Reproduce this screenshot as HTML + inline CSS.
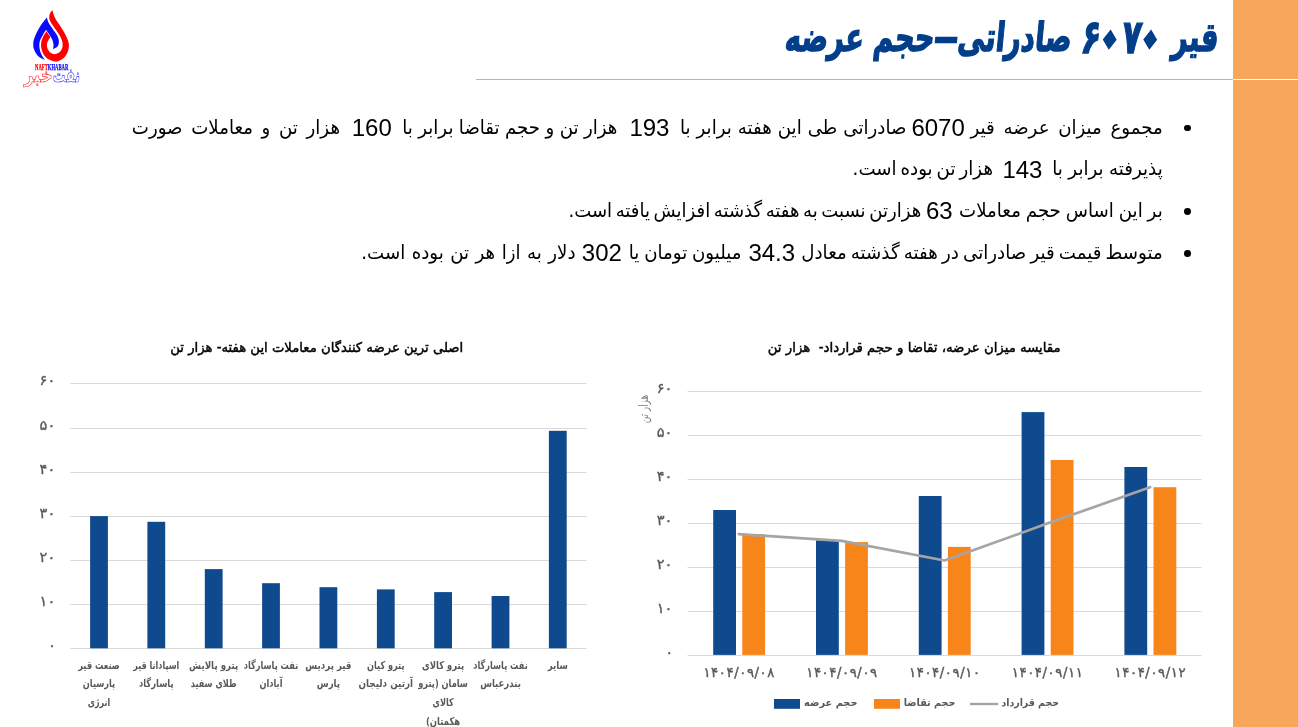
<!DOCTYPE html>
<html lang="fa">
<head>
<meta charset="utf-8">
<title>قیر ۶۰۷۰ صادراتی–حجم عرضه</title>
<style>
html,body{margin:0;padding:0;}
body{width:1298px;height:727px;overflow:hidden;background:#fff;position:relative;font-family:"Liberation Sans", "DejaVu Sans", sans-serif;}
.side{position:absolute;left:1233px;top:0;width:65px;height:727px;background:#F8A65C;}
.side i{position:absolute;left:0;top:79px;width:65px;height:1px;background:#fff;display:block;}
.rule{position:absolute;left:476px;top:79px;width:757px;height:1px;background:#F8A65C;}
h1{position:absolute;margin:0;right:82.5px;top:4px;height:66px;line-height:66px;font-size:40px;font-weight:bold;color:#023E8A;direction:rtl;white-space:nowrap;font-family:"DejaVu Sans",sans-serif;-webkit-text-stroke:1.4px #023E8A;transform:scaleX(.685) skewX(-8deg);transform-origin:right bottom;}
h1 .n{font-size:47px;line-height:1px;position:relative;top:1.5px;display:inline-block;direction:ltr;unicode-bidi:bidi-override;}
h1 .z{display:inline-block;font-size:1.6em;line-height:1px;position:relative;top:9.5px;margin:0 -7.6px;transform:rotate(45deg);}
h1 .d{display:inline-block;transform:scaleX(1.9);margin:0 7px;}
.ln{margin:0;}
.ar{position:absolute;direction:rtl;white-space:pre;font-size:18.2px;line-height:40px;height:40px;color:#000;font-family:"DejaVu Sans",sans-serif;transform-origin:100% 26.3px;}
.dg{position:absolute;font-size:24px;line-height:40px;height:40px;color:#000;text-align:center;font-family:"Liberation Sans",sans-serif;direction:ltr;}
.dot{position:absolute;left:1183.9px;width:6.8px;height:6.8px;border-radius:50%;background:#000;}
svg{position:absolute;left:0;top:0;}
svg text{font-family:"DejaVu Sans",sans-serif;}
</style>
</head>
<body>
<div class="side"><i></i></div>
<div class="rule"></div>
<h1>قیر <span class="n">۶<span class="z">۰</span>۷<span class="z">۰</span></span> صادراتی<span class="d">–</span>حجم عرضه</h1>

<p class="ln">
<span class="ar" style="top:107.6px;right:135.3px;word-spacing:2.85px;transform:scale(1.000,1.07)">مجموع میزان عرضه قیر</span>
<span class="dg" style="top:107.9px;left:903.0px;width:70.2px">6070</span>
<span class="ar" style="top:107.6px;right:391.6px;word-spacing:0.17px;transform:scale(1.000,1.07)">صادراتی طی این هفته برابر با</span>
<span class="dg" style="top:107.9px;left:623.0px;width:52.8px">193</span>
<span class="ar" style="top:107.6px;right:680.6px;word-spacing:-0.40px;transform:scale(1.000,1.07)">هزار تن و حجم تقاضا برابر با</span>
<span class="dg" style="top:107.9px;left:345.2px;width:53.2px">160</span>
<span class="ar" style="top:107.6px;right:958.0px;word-spacing:2.85px;transform:scale(1.000,1.07)">هزار تن و معاملات صورت</span>
</p>
<span class="dot" style="top:124.7px"></span>
<p class="ln">
<span class="ar" style="top:149.3px;right:135.3px;word-spacing:-0.33px;transform:scale(1.000,1.07)">پذیرفته برابر با</span>
<span class="dg" style="top:149.6px;left:995.8px;width:53.3px">143</span>
<span class="ar" style="top:149.3px;right:305.0px;word-spacing:-1.78px;transform:scale(1.000,1.07)">هزار تن بوده است.</span>
</p>
<p class="ln">
<span class="ar" style="top:191.1px;right:135.3px;word-spacing:-0.87px;transform:scale(1.000,1.07)">بر این اساس حجم معاملات</span>
<span class="dg" style="top:191.4px;left:918.2px;width:42.2px">63</span>
<span class="ar" style="top:191.1px;right:376.6px;word-spacing:-2.20px;transform:scale(0.993,1.07)">هزارتن نسبت به هفته گذشته افزایش یافته است.</span>
</p>
<span class="dot" style="top:208.2px"></span>
<p class="ln">
<span class="ar" style="top:232.8px;right:135.3px;word-spacing:-1.58px;transform:scale(1.000,1.07)">متوسط قیمت قیر صادراتی در هفته گذشته معادل</span>
<span class="dg" style="top:233.1px;left:740.2px;width:63.1px">34.3</span>
<span class="ar" style="top:232.8px;right:556.5px;word-spacing:-1.03px;transform:scale(1.000,1.07)">میلیون تومان یا</span>
<span class="dg" style="top:233.1px;left:572.9px;width:57.9px">302</span>
<span class="ar" style="top:232.8px;right:722.5px;word-spacing:0.67px;transform:scale(1.000,1.07)">دلار به ازا هر تن بوده است.</span>
</p>
<span class="dot" style="top:249.9px"></span>
<svg width="1298" height="727" viewBox="0 0 1298 727" direction="rtl">
<line x1="70.3" y1="648.5" x2="586.5" y2="648.5" stroke="#D9D9D9" stroke-width="1"/>
<text x="52.0" y="649.9" font-size="14" font-weight="normal" fill="#595959" text-anchor="middle" direction="ltr" stroke="#595959" stroke-width="0.35">۰</text>
<line x1="70.3" y1="604.5" x2="586.5" y2="604.5" stroke="#D9D9D9" stroke-width="1"/>
<text x="47.4" y="605.9" font-size="14" font-weight="normal" fill="#595959" text-anchor="middle" textLength="15.6" lengthAdjust="spacingAndGlyphs" direction="ltr" stroke="#595959" stroke-width="0.35">۱۰</text>
<line x1="70.3" y1="560.5" x2="586.5" y2="560.5" stroke="#D9D9D9" stroke-width="1"/>
<text x="47.4" y="561.9" font-size="14" font-weight="normal" fill="#595959" text-anchor="middle" textLength="15.6" lengthAdjust="spacingAndGlyphs" direction="ltr" stroke="#595959" stroke-width="0.35">۲۰</text>
<line x1="70.3" y1="516.5" x2="586.5" y2="516.5" stroke="#D9D9D9" stroke-width="1"/>
<text x="47.4" y="517.9" font-size="14" font-weight="normal" fill="#595959" text-anchor="middle" textLength="15.6" lengthAdjust="spacingAndGlyphs" direction="ltr" stroke="#595959" stroke-width="0.35">۳۰</text>
<line x1="70.3" y1="472.5" x2="586.5" y2="472.5" stroke="#D9D9D9" stroke-width="1"/>
<text x="47.4" y="473.9" font-size="14" font-weight="normal" fill="#595959" text-anchor="middle" textLength="15.6" lengthAdjust="spacingAndGlyphs" direction="ltr" stroke="#595959" stroke-width="0.35">۴۰</text>
<line x1="70.3" y1="428.5" x2="586.5" y2="428.5" stroke="#D9D9D9" stroke-width="1"/>
<text x="47.4" y="429.9" font-size="14" font-weight="normal" fill="#595959" text-anchor="middle" textLength="15.6" lengthAdjust="spacingAndGlyphs" direction="ltr" stroke="#595959" stroke-width="0.35">۵۰</text>
<line x1="70.3" y1="383.5" x2="586.5" y2="383.5" stroke="#D9D9D9" stroke-width="1"/>
<text x="47.4" y="384.9" font-size="14" font-weight="normal" fill="#595959" text-anchor="middle" textLength="15.6" lengthAdjust="spacingAndGlyphs" direction="ltr" stroke="#595959" stroke-width="0.35">۶۰</text>
<rect x="90.1" y="516.1" width="17.8" height="132.2" fill="#104A8E"/>
<text x="99.0" y="668.5" font-size="11" font-weight="bold" fill="#595959" text-anchor="middle" textLength="41.6" lengthAdjust="spacingAndGlyphs">صنعت قیر</text>
<text x="99.0" y="687.2" font-size="11" font-weight="bold" fill="#595959" text-anchor="middle" textLength="32.4" lengthAdjust="spacingAndGlyphs">پارسیان</text>
<text x="99.0" y="705.9" font-size="11" font-weight="bold" fill="#595959" text-anchor="middle" textLength="22.6" lengthAdjust="spacingAndGlyphs">انرژی</text>
<rect x="147.4" y="521.8" width="17.8" height="126.5" fill="#104A8E"/>
<text x="156.3" y="668.5" font-size="11" font-weight="bold" fill="#595959" text-anchor="middle" textLength="46.0" lengthAdjust="spacingAndGlyphs">اسپادانا قیر</text>
<text x="156.3" y="687.2" font-size="11" font-weight="bold" fill="#595959" text-anchor="middle" textLength="34.7" lengthAdjust="spacingAndGlyphs">پاسارگاد</text>
<rect x="204.8" y="569.1" width="17.8" height="79.2" fill="#104A8E"/>
<text x="213.7" y="668.5" font-size="11" font-weight="bold" fill="#595959" text-anchor="middle" textLength="49.2" lengthAdjust="spacingAndGlyphs">پترو پالایش</text>
<text x="213.7" y="687.2" font-size="11" font-weight="bold" fill="#595959" text-anchor="middle" textLength="45.8" lengthAdjust="spacingAndGlyphs">طلای سفید</text>
<rect x="262.1" y="583.2" width="17.8" height="65.1" fill="#104A8E"/>
<text x="271.0" y="668.5" font-size="11" font-weight="bold" fill="#595959" text-anchor="middle" textLength="54.5" lengthAdjust="spacingAndGlyphs">نفت پاسارگاد</text>
<text x="271.0" y="687.2" font-size="11" font-weight="bold" fill="#595959" text-anchor="middle" textLength="23.1" lengthAdjust="spacingAndGlyphs">آبادان</text>
<rect x="319.5" y="587.2" width="17.8" height="61.1" fill="#104A8E"/>
<text x="328.4" y="668.5" font-size="11" font-weight="bold" fill="#595959" text-anchor="middle" textLength="46.2" lengthAdjust="spacingAndGlyphs">قیر پردیس</text>
<text x="328.4" y="687.2" font-size="11" font-weight="bold" fill="#595959" text-anchor="middle" textLength="23.3" lengthAdjust="spacingAndGlyphs">پارس</text>
<rect x="376.9" y="589.4" width="17.8" height="58.9" fill="#104A8E"/>
<text x="385.8" y="668.5" font-size="11" font-weight="bold" fill="#595959" text-anchor="middle" textLength="37.4" lengthAdjust="spacingAndGlyphs">پترو کیان</text>
<text x="385.8" y="687.2" font-size="11" font-weight="bold" fill="#595959" text-anchor="middle" textLength="54.5" lengthAdjust="spacingAndGlyphs">آرتین دلیجان</text>
<rect x="434.2" y="592.1" width="17.8" height="56.2" fill="#104A8E"/>
<text x="443.1" y="668.5" font-size="11" font-weight="bold" fill="#595959" text-anchor="middle" textLength="42.0" lengthAdjust="spacingAndGlyphs">پترو کالای</text>
<text x="443.1" y="687.2" font-size="11" font-weight="bold" fill="#595959" text-anchor="middle" textLength="49.7" lengthAdjust="spacingAndGlyphs">سامان (پترو</text>
<text x="443.1" y="705.9" font-size="11" font-weight="bold" fill="#595959" text-anchor="middle" textLength="21.3" lengthAdjust="spacingAndGlyphs">کالای</text>
<text x="443.1" y="724.6" font-size="11" font-weight="bold" fill="#595959" text-anchor="middle" textLength="34.2" lengthAdjust="spacingAndGlyphs">هکمتان)</text>
<rect x="491.6" y="596.0" width="17.8" height="52.3" fill="#104A8E"/>
<text x="500.5" y="668.5" font-size="11" font-weight="bold" fill="#595959" text-anchor="middle" textLength="54.5" lengthAdjust="spacingAndGlyphs">نفت پاسارگاد</text>
<text x="500.5" y="687.2" font-size="11" font-weight="bold" fill="#595959" text-anchor="middle" textLength="40.7" lengthAdjust="spacingAndGlyphs">بندرعباس</text>
<rect x="548.9" y="430.8" width="17.8" height="217.5" fill="#104A8E"/>
<text x="557.8" y="668.5" font-size="11" font-weight="bold" fill="#595959" text-anchor="middle" textLength="20.1" lengthAdjust="spacingAndGlyphs">سایر</text>
<text x="316.7" y="352.4" font-size="13.4" font-weight="normal" fill="#000" text-anchor="middle" textLength="292.9" lengthAdjust="spacingAndGlyphs" stroke="#000" stroke-width="0.45">اصلی ترین عرضه کنندگان معاملات این هفته- هزار تن</text>
<line x1="687.5" y1="655.5" x2="1201.5" y2="655.5" stroke="#D9D9D9" stroke-width="1"/>
<text x="669.2" y="656.9" font-size="14" font-weight="normal" fill="#595959" text-anchor="middle" direction="ltr" stroke="#595959" stroke-width="0.35">۰</text>
<line x1="687.5" y1="611.5" x2="1201.5" y2="611.5" stroke="#D9D9D9" stroke-width="1"/>
<text x="664.6" y="612.9" font-size="14" font-weight="normal" fill="#595959" text-anchor="middle" textLength="15.6" lengthAdjust="spacingAndGlyphs" direction="ltr" stroke="#595959" stroke-width="0.35">۱۰</text>
<line x1="687.5" y1="567.5" x2="1201.5" y2="567.5" stroke="#D9D9D9" stroke-width="1"/>
<text x="664.6" y="568.9" font-size="14" font-weight="normal" fill="#595959" text-anchor="middle" textLength="15.6" lengthAdjust="spacingAndGlyphs" direction="ltr" stroke="#595959" stroke-width="0.35">۲۰</text>
<line x1="687.5" y1="523.5" x2="1201.5" y2="523.5" stroke="#D9D9D9" stroke-width="1"/>
<text x="664.6" y="524.9" font-size="14" font-weight="normal" fill="#595959" text-anchor="middle" textLength="15.6" lengthAdjust="spacingAndGlyphs" direction="ltr" stroke="#595959" stroke-width="0.35">۳۰</text>
<line x1="687.5" y1="479.5" x2="1201.5" y2="479.5" stroke="#D9D9D9" stroke-width="1"/>
<text x="664.6" y="480.9" font-size="14" font-weight="normal" fill="#595959" text-anchor="middle" textLength="15.6" lengthAdjust="spacingAndGlyphs" direction="ltr" stroke="#595959" stroke-width="0.35">۴۰</text>
<line x1="687.5" y1="435.5" x2="1201.5" y2="435.5" stroke="#D9D9D9" stroke-width="1"/>
<text x="664.6" y="436.9" font-size="14" font-weight="normal" fill="#595959" text-anchor="middle" textLength="15.6" lengthAdjust="spacingAndGlyphs" direction="ltr" stroke="#595959" stroke-width="0.35">۵۰</text>
<line x1="687.5" y1="391.5" x2="1201.5" y2="391.5" stroke="#D9D9D9" stroke-width="1"/>
<text x="664.6" y="392.9" font-size="14" font-weight="normal" fill="#595959" text-anchor="middle" textLength="15.6" lengthAdjust="spacingAndGlyphs" direction="ltr" stroke="#595959" stroke-width="0.35">۶۰</text>
<rect x="713.2" y="510.0" width="22.8" height="144.9" fill="#104A8E"/>
<rect x="742.3" y="534.2" width="22.8" height="120.7" fill="#F8851A"/>
<text x="738.9" y="676.9" font-size="13.2" font-weight="normal" fill="#595959" text-anchor="middle" textLength="71.0" lengthAdjust="spacing" direction="ltr" stroke="#595959" stroke-width="0.4">۱۴۰۴/۰۹/۰۸</text>
<rect x="816.0" y="540.3" width="22.8" height="114.6" fill="#104A8E"/>
<rect x="845.1" y="542.1" width="22.8" height="112.8" fill="#F8851A"/>
<text x="841.7" y="676.9" font-size="13.2" font-weight="normal" fill="#595959" text-anchor="middle" textLength="71.0" lengthAdjust="spacing" direction="ltr" stroke="#595959" stroke-width="0.4">۱۴۰۴/۰۹/۰۹</text>
<rect x="918.8" y="496.0" width="22.8" height="158.9" fill="#104A8E"/>
<rect x="947.9" y="546.9" width="22.8" height="108.0" fill="#F8851A"/>
<text x="944.5" y="676.9" font-size="13.2" font-weight="normal" fill="#595959" text-anchor="middle" textLength="71.0" lengthAdjust="spacing" direction="ltr" stroke="#595959" stroke-width="0.4">۱۴۰۴/۰۹/۱۰</text>
<rect x="1021.6" y="412.1" width="22.8" height="242.8" fill="#104A8E"/>
<rect x="1050.7" y="460.0" width="22.8" height="194.9" fill="#F8851A"/>
<text x="1047.3" y="676.9" font-size="13.2" font-weight="normal" fill="#595959" text-anchor="middle" textLength="71.0" lengthAdjust="spacing" direction="ltr" stroke="#595959" stroke-width="0.4">۱۴۰۴/۰۹/۱۱</text>
<rect x="1124.4" y="467.0" width="22.8" height="187.9" fill="#104A8E"/>
<rect x="1153.5" y="487.2" width="22.8" height="167.7" fill="#F8851A"/>
<text x="1150.1" y="676.9" font-size="13.2" font-weight="normal" fill="#595959" text-anchor="middle" textLength="71.0" lengthAdjust="spacing" direction="ltr" stroke="#595959" stroke-width="0.4">۱۴۰۴/۰۹/۱۲</text>
<polyline points="738.9,534.2 841.7,540.8 944.5,560.5 1047.3,523.6 1150.1,487.2" fill="none" stroke="#A5A5A5" stroke-width="2.7" stroke-linecap="round" stroke-linejoin="round"/>
<text x="914.2" y="352.4" font-size="13.4" font-weight="normal" fill="#000" text-anchor="middle" textLength="292.9" lengthAdjust="spacingAndGlyphs" style="white-space:pre" stroke="#000" stroke-width="0.45">مقایسه میزان عرضه، تقاضا و حجم قرارداد-  هزار تن</text>
<text transform="translate(648,409) rotate(-90)" font-size="13" fill="#7F7F7F" text-anchor="middle" textLength="28.5" lengthAdjust="spacingAndGlyphs">هزار تن</text>
<rect x="774" y="699" width="26" height="9.8" fill="#104A8E"/>
<text x="830.8" y="706.2" font-size="10.5" font-weight="bold" fill="#595959" text-anchor="middle" textLength="53.4" lengthAdjust="spacingAndGlyphs">حجم عرضه</text>
<rect x="874" y="699" width="26" height="9.8" fill="#F8851A"/>
<text x="929.6" y="706.2" font-size="10.5" font-weight="bold" fill="#595959" text-anchor="middle" textLength="51.8" lengthAdjust="spacingAndGlyphs">حجم تقاضا</text>
<line x1="970" y1="704" x2="998.2" y2="704" stroke="#A5A5A5" stroke-width="2.4"/>
<text x="1030.2" y="706.2" font-size="10.5" font-weight="bold" fill="#595959" text-anchor="middle" textLength="57.5" lengthAdjust="spacingAndGlyphs">حجم قرارداد</text>
<g id="logo">
<path d="M46.90 17.40 C45.87 18.77 42.68 22.43 40.70 25.60 C38.72 28.77 36.23 33.50 35.00 36.40 C33.77 39.30 33.45 40.80 33.30 43.00 C33.15 45.20 33.27 47.40 34.10 49.60 C34.93 51.80 36.50 54.48 38.30 56.20 C40.10 57.92 43.80 59.28 44.90 59.90 C44.30 58.97 42.20 56.30 41.30 54.30 C40.40 52.30 39.75 50.07 39.50 47.90 C39.25 45.73 39.23 43.47 39.80 41.30 C40.37 39.13 41.85 36.82 42.90 34.90 C43.95 32.98 45.57 30.65 46.10 29.80 C46.65 30.62 48.37 33.05 49.40 34.70 C50.43 36.35 51.62 38.05 52.30 39.70 C52.98 41.35 53.37 43.02 53.50 44.60 C53.63 46.18 53.17 48.43 53.10 49.20 C53.87 48.72 56.73 47.62 57.70 46.30 C58.67 44.98 58.98 43.08 58.90 41.30 C58.82 39.52 58.23 37.67 57.20 35.60 C56.17 33.53 54.13 31.03 52.70 28.90 C51.27 26.77 49.57 24.72 48.60 22.80 C47.63 20.88 47.18 18.30 46.90 17.40 Z" fill="#0A0AFF"/>
<path d="M52.30 10.10 C52.72 11.32 53.42 14.67 54.80 17.40 C56.18 20.13 58.68 23.33 60.60 26.50 C62.52 29.67 64.93 33.52 66.30 36.40 C67.67 39.28 68.52 41.33 68.80 43.80 C69.08 46.27 68.82 48.87 68.00 51.20 C67.18 53.53 65.68 56.10 63.90 57.80 C62.12 59.50 59.52 60.98 57.30 61.40 C55.08 61.82 52.67 61.17 50.60 60.30 C48.53 59.43 46.40 57.98 44.90 56.20 C43.40 54.42 42.23 51.80 41.60 49.60 C40.97 47.40 40.83 45.20 41.10 43.00 C41.37 40.80 42.30 38.37 43.20 36.40 C44.10 34.43 45.95 32.07 46.50 31.20 C47.15 32.17 49.75 36.03 50.40 37.00 C49.97 37.72 48.38 39.88 47.80 41.30 C47.22 42.72 46.83 44.05 46.90 45.50 C46.97 46.95 47.43 48.70 48.20 50.00 C48.97 51.30 50.27 52.62 51.50 53.30 C52.73 53.98 54.23 54.30 55.60 54.10 C56.97 53.90 58.60 53.13 59.70 52.10 C60.80 51.07 61.72 49.42 62.20 47.90 C62.68 46.38 62.87 44.78 62.60 43.00 C62.33 41.22 61.63 39.27 60.60 37.20 C59.57 35.13 57.85 32.80 56.40 30.60 C54.95 28.40 53.07 25.93 51.90 24.00 C50.73 22.07 49.75 20.65 49.40 19.00 C49.05 17.35 49.32 15.58 49.80 14.10 C50.28 12.62 51.88 10.77 52.30 10.10 Z" fill="#FF0000"/>
<text x="51.7" y="69.6" font-size="7.6" font-weight="bold" text-anchor="middle" textLength="33.2" lengthAdjust="spacingAndGlyphs" direction="ltr" stroke-width="0.25" style="font-family:'Liberation Serif',serif"><tspan fill="#FF0000" stroke="#FF0000">NAFT</tspan><tspan fill="#0A0AFF" stroke="#0A0AFF">KHABAR</tspan></text>
<text x="66.4" y="81.5" font-size="20" font-weight="bold" text-anchor="middle" textLength="27.4" lengthAdjust="spacingAndGlyphs" fill="none" stroke="#2A2AFF" stroke-width="0.65">نفت</text>
<text x="38.3" y="82" font-size="20" font-weight="bold" text-anchor="middle" textLength="28.8" lengthAdjust="spacingAndGlyphs" fill="none" stroke="#FF2020" stroke-width="0.65">خبر</text>
</g>
</svg>
</body></html>
